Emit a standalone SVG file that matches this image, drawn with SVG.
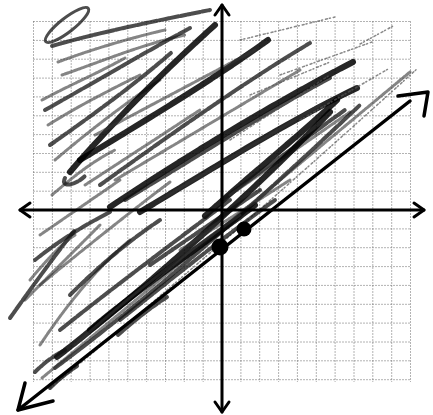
<svg xmlns="http://www.w3.org/2000/svg" width="433" height="415" viewBox="0 0 433 415">
<style>
.grid line{stroke:#666;stroke-width:1;stroke-dasharray:1 2}
.axis{stroke:#000;stroke-width:3;fill:none;stroke-linecap:round;stroke-linejoin:round}
#shading path,#shading ellipse{fill:none;stroke-linecap:round;stroke-linejoin:round}
.dk{stroke:#000;stroke-width:6;opacity:.85;stroke-dasharray:10 1 5 1 18 1}
.md{stroke:#111;stroke-width:4;opacity:.75;stroke-dasharray:6 1 3 1 9 2}
.lt{stroke:#333;stroke-width:3;opacity:.6;stroke-dasharray:2 1 4 1 1 1}
.fa{stroke:#555;stroke-width:1.5;opacity:.7;stroke-dasharray:2 2 1 3}
.ln{stroke:#000;stroke-width:3.5;fill:none;stroke-linecap:round;stroke-linejoin:round}
</style>
<rect width="433" height="415" fill="#fff"/>
<g id="grid" class="grid">
<line x1="33.5" y1="21.5" x2="33.5" y2="382"/><line x1="52.4" y1="21.5" x2="52.4" y2="382"/><line x1="71.2" y1="21.5" x2="71.2" y2="382"/><line x1="90.1" y1="21.5" x2="90.1" y2="382"/><line x1="108.9" y1="21.5" x2="108.9" y2="382"/><line x1="127.8" y1="21.5" x2="127.8" y2="382"/><line x1="146.6" y1="21.5" x2="146.6" y2="382"/><line x1="165.5" y1="21.5" x2="165.5" y2="382"/><line x1="184.3" y1="21.5" x2="184.3" y2="382"/><line x1="203.2" y1="21.5" x2="203.2" y2="382"/><line x1="240.9" y1="21.5" x2="240.9" y2="382"/><line x1="259.7" y1="21.5" x2="259.7" y2="382"/><line x1="278.6" y1="21.5" x2="278.6" y2="382"/><line x1="297.4" y1="21.5" x2="297.4" y2="382"/><line x1="316.3" y1="21.5" x2="316.3" y2="382"/><line x1="335.1" y1="21.5" x2="335.1" y2="382"/><line x1="354" y1="21.5" x2="354" y2="382"/><line x1="372.8" y1="21.5" x2="372.8" y2="382"/><line x1="391.7" y1="21.5" x2="391.7" y2="382"/><line x1="410.5" y1="21.5" x2="410.5" y2="382"/>
<line x1="33.5" y1="21.5" x2="410.5" y2="21.5"/><line x1="33.5" y1="40.4" x2="410.5" y2="40.4"/><line x1="33.5" y1="59.2" x2="410.5" y2="59.2"/><line x1="33.5" y1="78.1" x2="410.5" y2="78.1"/><line x1="33.5" y1="96.9" x2="410.5" y2="96.9"/><line x1="33.5" y1="115.8" x2="410.5" y2="115.8"/><line x1="33.5" y1="134.6" x2="410.5" y2="134.6"/><line x1="33.5" y1="153.5" x2="410.5" y2="153.5"/><line x1="33.5" y1="172.3" x2="410.5" y2="172.3"/><line x1="33.5" y1="191.2" x2="410.5" y2="191.2"/><line x1="33.5" y1="228.9" x2="410.5" y2="228.9"/><line x1="33.5" y1="247.7" x2="410.5" y2="247.7"/><line x1="33.5" y1="266.6" x2="410.5" y2="266.6"/><line x1="33.5" y1="285.4" x2="410.5" y2="285.4"/><line x1="33.5" y1="304.3" x2="410.5" y2="304.3"/><line x1="33.5" y1="323.1" x2="410.5" y2="323.1"/><line x1="33.5" y1="342" x2="410.5" y2="342"/><line x1="33.5" y1="360.8" x2="410.5" y2="360.8"/><line x1="33.5" y1="379.7" x2="410.5" y2="379.7"/>
</g>
<g id="shading">
<ellipse cx="67" cy="25" rx="27" ry="7" transform="rotate(-38 67 25)" class="md" style="stroke-dasharray:none;stroke-width:3"/>
<path class="md" d="M52,46 C100,32 160,20 210,10"/>
<path class="lt" d="M58,62 C90,50 130,38 165,30"/>
<path class="lt" d="M62,75 C100,62 140,45 185,35"/>
<path class="md" d="M45,110 C90,85 140,55 190,28"/>
<path class="lt" d="M42,100 C70,85 100,72 125,58"/>
<path class="lt" d="M48,125 C80,105 110,90 140,75"/>
<path class="md" d="M50,145 C100,110 140,80 172,52"/>
<path class="lt" d="M55,160 C90,130 130,100 160,80"/>
<path class="lt" d="M52,195 C75,175 95,160 115,150"/>
<path class="dk" d="M70,172 C110,125 165,70 215,25"/>
<path class="md" d="M65,178 C60,188 75,186 85,176"/>
<path class="dk" d="M80,160 C150,118 220,75 268,40"/>
<path class="lt" d="M95,135 L255,50"/>
<path class="lt" d="M85,185 L200,110"/>
<path class="md" d="M100,185 C170,135 240,85 310,43"/>
<path class="lt" d="M115,180 L300,70"/>
<path class="dk" d="M110,207 C180,160 270,105 353,62"/>
<path class="md" d="M125,200 C200,155 270,110 330,78"/>
<path class="dk" d="M140,212 C210,170 290,120 357,88"/>
<path class="lt" d="M160,200 L320,105"/>
<path class="dk" d="M205,216 C250,175 300,135 337,100"/>
<path class="md" d="M222,200 C270,165 310,135 345,110"/>
<path class="lt" d="M230,195 L350,112"/>
<path class="fa" d="M230,140 L330,75"/>
<path class="fa" d="M250,95 L330,62"/>
<path class="fa" d="M240,40 L335,17"/>
<path class="fa" d="M360,44 L395,25"/>
<path class="fa" d="M280,75 L372,42"/>
<path class="fa" d="M300,120 L390,68"/>
<path class="dk" d="M57,357 C130,300 230,215 330,112"/>
<path class="md" d="M55,368 C160,290 270,190 360,105"/>
<path class="lt" d="M42,378 L410,72"/>
<path class="fa" d="M50,388 C170,290 300,175 418,68"/>
<path class="dk" d="M90,330 C150,280 210,240 255,205"/>
<path class="md" d="M120,320 C170,280 220,240 275,200"/>
<path class="md" d="M60,330 C110,290 170,245 230,200"/>
<path class="lt" d="M75,345 C130,295 190,250 240,215"/>
<path class="md" d="M118,335 C135,320 150,308 167,297"/>
<path class="md" d="M50,388 C58,380 68,372 77,366"/>
<path class="lt" d="M40,345 C70,300 100,265 130,240"/>
<path class="md" d="M10,318 C30,290 55,255 75,230"/>
<path class="lt" d="M25,300 L100,225"/>
<path class="lt" d="M30,280 C45,262 60,245 75,235"/>
<path class="md" d="M35,260 C60,240 85,225 110,212"/>
<path class="lt" d="M40,285 C80,252 130,212 170,182"/>
<path class="md" d="M70,295 C100,265 130,240 160,220"/>
<path class="lt" d="M40,235 L120,180"/>
<path class="md" d="M150,265 L260,190"/>
<path class="lt" d="M180,250 L290,180"/>
<path class="md" d="M35,372 C45,362 55,355 65,350"/>
</g>
<g id="axes">
<path class="axis" d="M20,210 L424,210"/>
<path class="axis" d="M30,203 L20,210 L30,217"/>
<path class="axis" d="M414,203 L424,210 L414,217"/>
<path class="axis" d="M222,5 L222,412"/>
<path class="axis" d="M215,15 L222,5 L229,15"/>
<path class="axis" d="M215,402 L222,412 L229,402"/>
</g>
<g id="boundary">
<path class="ln" d="M18,410 L410,101"/>
<path class="ln" d="M398,96 L428,92 L424,116"/>
<path class="ln" d="M25,383 L18,410 L53,401"/>
<circle cx="220" cy="247" r="8.5" fill="#000"/>
<circle cx="244" cy="229" r="7.5" fill="#000"/>
</g>
</svg>
